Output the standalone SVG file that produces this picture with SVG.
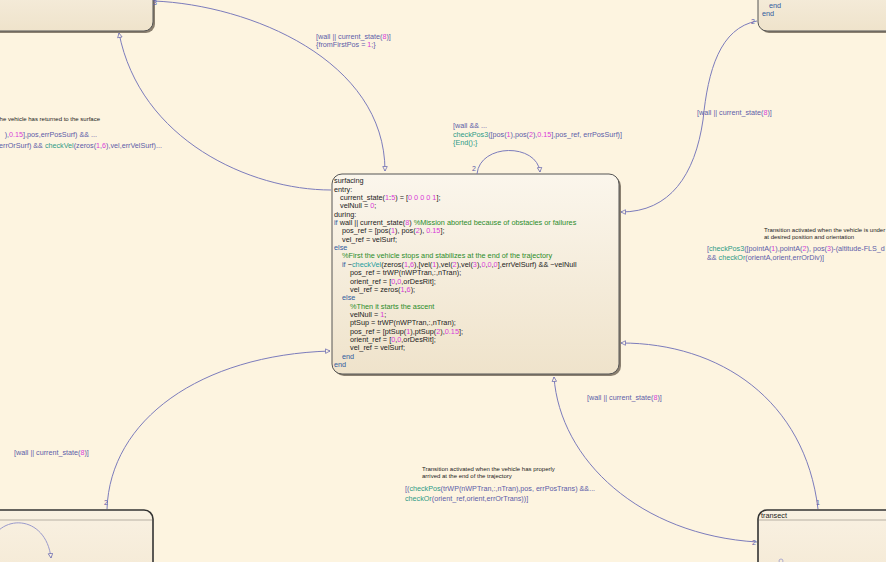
<svg xmlns="http://www.w3.org/2000/svg" width="886" height="562" viewBox="0 0 886 562">
<defs>
<linearGradient id="gBox" x1="0" y1="0" x2="0" y2="1">
<stop offset="0" stop-color="#fbf6ec"/>
<stop offset="1" stop-color="#efe3cb"/>
</linearGradient>
<linearGradient id="gSub" x1="0" y1="0" x2="0" y2="1">
<stop offset="0" stop-color="#f9f1e2"/>
<stop offset="1" stop-color="#f3e7d1"/>
</linearGradient>
<marker id="arr" viewBox="0 0 8 8" refX="7" refY="4" markerWidth="6" markerHeight="6" orient="auto" markerUnits="userSpaceOnUse">
<path d="M1,1 L7,4 L1,7 Z" fill="#fdf4e0" stroke="#6a6ab0" stroke-width="1"/>
</marker>
<style>
text{font-family:"Liberation Sans",Arial,sans-serif;}
.code{font-size:7.3px;fill:#222;}
.k{fill:#2f5c9e;}
.n{fill:#d93cd9;}
.c{fill:#2a8c2a;}
.f{fill:#1f9d9d;}
.lbl{font-size:7.2px;fill:#5c5ca8;}
.lf{fill:#2e9a86;}
.cm{font-size:6px;fill:#222;}
.ord{font-size:7px;fill:#5c5ca8;}
.conn{fill:none;stroke:#7c7cbc;stroke-width:1;marker-end:url(#arr);}
.shadow{fill:#8b8070;}
.state{fill:url(#gBox);stroke:#555;stroke-width:1;}
.sub{fill:url(#gSub);stroke:#333;stroke-width:1.6;}
.hdr{stroke:#d8d0c2;stroke-width:2;}
</style>
</defs>
<rect x="0" y="0" width="886" height="562" fill="#fdf4e0"/>

<g id="state-topleft">
<rect class="shadow" x="-18" y="-48" width="173" height="81" rx="9"/>
<rect class="state" x="-20" y="-50" width="173" height="81" rx="9"/>
</g>

<g id="state-topright">
<rect class="shadow" x="760" y="-48" width="140" height="81" rx="9"/>
<rect class="state" x="758" y="-50" width="140" height="81" rx="9"/>
<text class="code" x="769" y="7.5"><tspan class="k">end</tspan></text>
<text class="code" x="762" y="15.5"><tspan class="k">end</tspan></text>
</g>

<g id="state-bottomleft">
<rect class="sub" x="-20" y="510" width="173" height="90" rx="9"/>
<line class="hdr" x1="-20" y1="520" x2="152" y2="520"/>
<path d="M-12,548 C -2,512 46,514 51,558" fill="none" stroke="#9a9acc" stroke-width="1" marker-end="url(#arr)"/>
</g>

<g id="state-transect">
<rect class="sub" x="758" y="510" width="150" height="90" rx="9"/>
<line class="hdr" x1="759" y1="520" x2="886" y2="520"/>
<text class="code" x="761" y="518">transect</text>
<circle cx="781" cy="561" r="2" fill="none" stroke="#9a9acc" stroke-width="0.8"/>
</g>

<g id="state-surfacing">
<rect class="shadow" x="334" y="176" width="287" height="200" rx="10"/>
<rect class="state" x="332" y="174" width="287" height="200" rx="10"/>
<text class="code" x="334" y="183.2">surfacing</text>
<text class="code" x="334" y="191.6">entry:</text>
<text class="code" x="340" y="199.9">current_state(<tspan class="n">1</tspan>:<tspan class="n">5</tspan>) = [<tspan class="n">0 0 0 0 1</tspan>];</text>
<text class="code" x="340" y="208.3">velNull = <tspan class="n">0</tspan>;</text>
<text class="code" x="334" y="216.6">during:</text>
<text class="code" x="334" y="225.0"><tspan class="k">if</tspan> wall || current_state(<tspan class="n">8</tspan>) <tspan class="c">%Mission aborted because of obstacles or failures</tspan></text>
<text class="code" x="342" y="233.4">pos_ref = [pos(<tspan class="n">1</tspan>), pos(<tspan class="n">2</tspan>), <tspan class="n">0.15</tspan>];</text>
<text class="code" x="342" y="241.7">vel_ref = velSurf;</text>
<text class="code" x="334" y="250.1"><tspan class="k">else</tspan></text>
<text class="code" x="342" y="258.4"><tspan class="c">%First the vehicle stops and stabilizes at the end of the trajectory</tspan></text>
<text class="code" x="342" y="266.8"><tspan class="k">if</tspan> ~<tspan class="f">checkVel</tspan>(zeros(<tspan class="n">1</tspan>,<tspan class="n">6</tspan>),[vel(<tspan class="n">1</tspan>),vel(<tspan class="n">2</tspan>),vel(<tspan class="n">3</tspan>),<tspan class="n">0</tspan>,<tspan class="n">0</tspan>,<tspan class="n">0</tspan>],errVelSurf) &amp;&amp; ~velNull</text>
<text class="code" x="350" y="275.2">pos_ref = trWP(nWPTran,:,nTran);</text>
<text class="code" x="350" y="283.5">orient_ref = [<tspan class="n">0</tspan>,<tspan class="n">0</tspan>,orDesRit];</text>
<text class="code" x="350" y="291.9">vel_ref = zeros(<tspan class="n">1</tspan>,<tspan class="n">6</tspan>);</text>
<text class="code" x="342" y="300.2"><tspan class="k">else</tspan></text>
<text class="code" x="350" y="308.6"><tspan class="c">%Then it starts the ascent</tspan></text>
<text class="code" x="350" y="317.0">velNull = <tspan class="n">1</tspan>;</text>
<text class="code" x="350" y="325.3">ptSup = trWP(nWPTran,:,nTran);</text>
<text class="code" x="350" y="333.7">pos_ref = [ptSup(<tspan class="n">1</tspan>),ptSup(<tspan class="n">2</tspan>),<tspan class="n">0.15</tspan>];</text>
<text class="code" x="350" y="342.0">orient_ref = [<tspan class="n">0</tspan>,<tspan class="n">0</tspan>,orDesRit];</text>
<text class="code" x="350" y="350.4">vel_ref = velSurf;</text>
<text class="code" x="342" y="358.8"><tspan class="k">end</tspan></text>
<text class="code" x="334" y="367.1"><tspan class="k">end</tspan></text>
</g>

<g id="connectors">
<path class="conn" d="M154,1 C 250,5 385,60 385,171"/>
<path class="conn" d="M331,190 C 250,190 140,140 119,33"/>
<path class="conn" d="M477,174 C 480,143 537,143 540,172"/>
<path class="conn" d="M757,21 C 720,28 708,70 703,120 C 695,175 670,212 621,212"/>
<path class="conn" d="M818,509 C 805,400 720,343 621,343"/>
<path class="conn" d="M757,542 C 640,535 560,460 554,377"/>
<path class="conn" d="M107,509 C 110,420 200,355 330,351"/>

<text class="ord" x="153" y="5">3</text>
<text class="ord" x="472" y="171">2</text>
<text class="ord" x="751" y="24">2</text>
<text class="ord" x="816" y="505">1</text>
<text class="ord" x="752" y="545">2</text>
<text class="ord" x="104" y="505">2</text>

<text class="lbl" x="316" y="38.5">[wall || current_state(<tspan class="n">8</tspan>)]</text>
<text class="lbl" x="316" y="46.5">{fromFirstPos = <tspan class="n">1</tspan>;}</text>

<text class="lbl" x="453" y="127.5">[wall &amp;&amp; ...</text>
<text class="lbl" x="453" y="136.5"><tspan class="lf">checkPos3</tspan>([pos(<tspan class="n">1</tspan>),pos(<tspan class="n">2</tspan>),<tspan class="n">0.15</tspan>],pos_ref, errPosSurf)]</text>
<text class="lbl" x="453" y="145"><tspan class="lf">{End();}</tspan></text>

<text class="cm" x="100" y="121" text-anchor="end">he vehicle has returned to the surface</text>
<text class="lbl" x="97" y="137" text-anchor="end">),<tspan class="n">0.15</tspan>],pos,errPosSurf) &amp;&amp; ...</text>
<text class="lbl" x="162" y="148" text-anchor="end">errOrSurf) &amp;&amp; <tspan class="lf">checkVel</tspan>(zeros(<tspan class="n">1</tspan>,<tspan class="n">6</tspan>),vel,errVelSurf)...</text>

<text class="lbl" x="697" y="114.5">[wall || current_state(<tspan class="n">8</tspan>)]</text>

<text class="cm" x="764" y="231.5">Transition activated when the vehicle is under</text>
<text class="cm" x="764" y="239">at desired position and orientation</text>
<text class="lbl" x="707" y="251">[<tspan class="lf">checkPos3</tspan>([pointA(<tspan class="n">1</tspan>),pointA(<tspan class="n">2</tspan>), pos(<tspan class="n">3</tspan>)-(altitude-FLS_d</text>
<text class="lbl" x="707" y="259.5">&amp;&amp; <tspan class="lf">checkOr</tspan>(orientA,orient,errOrDiv)]</text>

<text class="lbl" x="587" y="400">[wall || current_state(<tspan class="n">8</tspan>)]</text>
<text class="lbl" x="14" y="454.5">[wall || current_state(<tspan class="n">8</tspan>)]</text>

<text class="cm" x="422" y="471">Transition activated when the vehicle has properly</text>
<text class="cm" x="422" y="478">arrived at the end of the trajectory</text>
<text class="lbl" x="405" y="491">[(<tspan class="lf">checkPos</tspan>(trWP(nWPTran,:,nTran),pos, errPosTrans) &amp;&amp;...</text>
<text class="lbl" x="405" y="500.5"><tspan class="lf">checkOr</tspan>(orient_ref,orient,errOrTrans))]</text>
</g>
</svg>
